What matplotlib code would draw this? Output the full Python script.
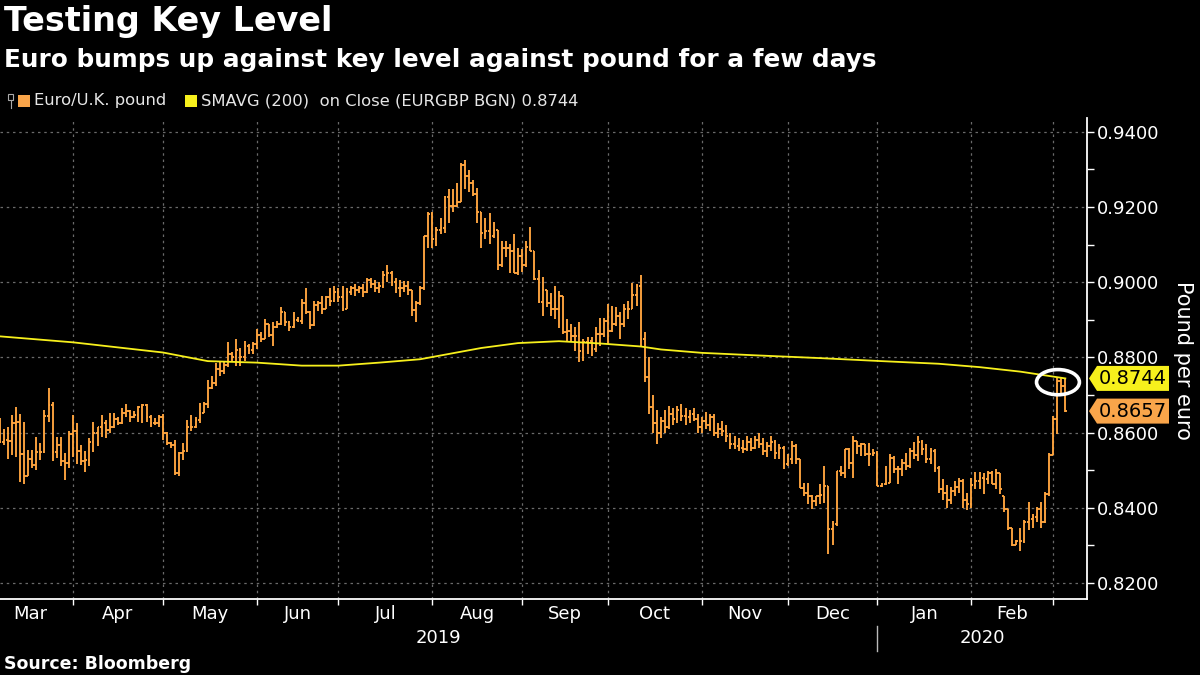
'''
EUR/GBP daily bars against the 200-day moving average, Bloomberg style.
'''
import matplotlib
matplotlib.use("Agg")
import matplotlib.pyplot as plt
import numpy as np
import pandas as pd
from matplotlib.collections import LineCollection
from matplotlib.patches import Ellipse, Polygon, Rectangle
from matplotlib.transforms import blended_transform_factory

# One bar per business day, 6 Mar 2019 to 5 Mar 2020
start_date = "2019-03-06"
end_date = "2020-03-05"

opens = [
  # Mar 2019
  .8600, .8576, .8580, .8578, .8626, .8629, .8543, .8485, .8529, .8514, .8547, .8547, .8644, .8673, .8549, .8567, .8524, .8518,
  # Apr
  .8596, .8603, .8551, .8524, .8527, .8576, .8598, .8614, .8625, .8607, .8616, .8635, .8626, .8651, .8656, .8642, .8647, .8669, .8673, .8641, .8625, .8625,
  # May
  .8642, .8598, .8571, .8567, .8492, .8545, .8551, .8616, .8614, .8634, .8653, .8676, .8718, .8731, .8770, .8765, .8780, .8809, .8800, .8820, .8800, .8830, .8820,
  # Jun
  .8835, .8860, .8850, .8890, .8860, .8880, .8889, .8920, .8895, .8880, .8900, .8898, .8945, .8920, .8885, .8940, .8945, .8930, .8960, .8950,
  # Jul
  .8975, .8960, .8930, .8975, .8985, .8980, .8985, .8975, .9005, .8995, .8985, .8990, .9020, .9025, .9000, .8985, .8985, .8990, .8980, .8926, .8945, .8985, .9122,
  # Aug
  .9181, .9114, .9140, .9144, .9226, .9204, .9204, .9214, .9312, .9283, .9264, .9234, .9187, .9131, .9135, .9122, .9140, .9045, .9092, .9092, .9084, .9025,
  # Sep
  .9071, .9045, .9093, .9084, .9008, .8948, .8980, .8946, .8928, .8928, .8962, .8867, .8871, .8858, .8858, .8818, .8840, .8844, .8822, .8862, .8862,
  # Oct
  .8898, .8871, .8889, .8911, .8889, .8929, .8929, .8967, .8990, .8849, .8747, .8668, .8625, .8600, .8630, .8615, .8650, .8635, .8660, .8645, .8640, .8650, .8635,
  # Nov
  .8615, .8630, .8620, .8640, .8600, .8610, .8605, .8590, .8570, .8565, .8560, .8555, .8575, .8560, .8580, .8570, .8550, .8565, .8575, .8545, .8560,
  # Dec
  .8515, .8529, .8564, .8529, .8453, .8440, .8431, .8418, .8431, .8435, .8458, .8342, .8356, .8498, .8493, .8555, .8520, .8577, .8564, .8569, .8542, .8542,
  # Jan 2020
  .8545, .8458, .8462, .8467, .8533, .8502, .8502, .8520, .8510, .8550, .8540, .8575, .8555, .8530, .8550, .8505, .8450, .8440, .8420, .8445, .8455, .8470, .8420,
  # Feb
  .8410, .8460, .8470, .8480, .8476, .8493, .8463, .8493, .8430, .8397, .8345, .8302, .8310, .8310, .8362, .8371, .8376, .8397, .8362, .8436,
  # Mar 2020
  .8541, .8636, .8737, .8724,
]
highs = [
  .8638, .8609, .8616, .8647, .8669, .8649, .8629, .8554, .8554, .8587, .8571, .8660, .8718, .8680, .8589, .8589, .8545, .8603,
  .8647, .8625, .8567, .8551, .8585, .8629, .8616, .8647, .8632, .8651, .8651, .8642, .8665, .8676, .8660, .8656, .8671, .8675, .8676, .8647, .8638, .8647,
  .8648, .8602, .8576, .8580, .8549, .8571, .8634, .8647, .8642, .8678, .8682, .8740, .8750, .8785, .8791, .8791, .8840, .8815, .8849, .8825, .8844, .8835, .8840,
  .8875, .8867, .8902, .8890, .8893, .8898, .8933, .8920, .8898, .8920, .8907, .8955, .8985, .8924, .8951, .8951, .8964, .8964, .8985, .8990,
  .8985, .8990, .8985, .8990, .8995, .8990, .8995, .9010, .9010, .9005, .9000, .9030, .9045, .9030, .9010, .9005, .9002, .9002, .8980, .8950, .8990, .9122, .9187,
  .9187, .9148, .9170, .9230, .9247, .9247, .9265, .9316, .9325, .9299, .9273, .9252, .9187, .9170, .9183, .9161, .9140, .9110, .9110, .9101, .9127, .9092,
  .9088, .9110, .9148, .9084, .9032, .9015, .8980, .8972, .8989, .8976, .8962, .8902, .8889, .8880, .8893, .8849, .8853, .8853, .8880, .8906, .8906,
  .8942, .8937, .8933, .8920, .8942, .8950, .8998, .8994, .9018, .8867, .8800, .8700, .8660, .8640, .8660, .8670, .8665, .8670, .8675, .8665, .8660, .8665, .8650,
  .8640, .8655, .8650, .8650, .8625, .8630, .8620, .8600, .8590, .8585, .8580, .8590, .8585, .8590, .8600, .8585, .8575, .8590, .8580, .8570, .8565,
  .8542, .8577, .8569, .8529, .8467, .8467, .8435, .8431, .8462, .8511, .8458, .8365, .8498, .8511, .8555, .8558, .8591, .8577, .8573, .8569, .8573, .8555,
  .8551, .8467, .8511, .8542, .8537, .8511, .8530, .8545, .8560, .8575, .8590, .8580, .8570, .8560, .8555, .8510, .8475, .8460, .8455, .8470, .8480, .8475, .8440,
  .8480, .8495, .8495, .8493, .8497, .8497, .8502, .8493, .8432, .8397, .8345, .8315, .8345, .8367, .8415, .8384, .8402, .8415, .8441, .8545,
  .8645, .8744, .8744, .8744,
]
lows = [
  .8571, .8567, .8529, .8540, .8536, .8469, .8463, .8483, .8505, .8501, .8527, .8545, .8629, .8523, .8532, .8511, .8474, .8505,
  .8536, .8516, .8514, .8496, .8511, .8549, .8563, .8589, .8585, .8598, .8611, .8620, .8622, .8642, .8629, .8638, .8629, .8625, .8629, .8616, .8620, .8616,
  .8580, .8567, .8558, .8487, .8483, .8527, .8549, .8603, .8611, .8625, .8651, .8665, .8715, .8725, .8750, .8755, .8775, .8791, .8778, .8778, .8791, .8809, .8809,
  .8822, .8840, .8849, .8853, .8831, .8878, .8885, .8884, .8871, .8878, .8893, .8889, .8915, .8875, .8884, .8924, .8915, .8928, .8937, .8948,
  .8947, .8924, .8928, .8965, .8964, .8970, .8960, .8970, .8985, .8975, .8970, .8985, .9000, .8990, .8970, .8960, .8975, .8965, .8911, .8894, .8940, .8980, .9092,
  .9092, .9097, .9127, .9131, .9157, .9187, .9200, .9213, .9247, .9239, .9230, .9157, .9092, .9114, .9101, .9118, .9032, .9041, .9067, .9024, .9024, .9020,
  .9028, .9040, .9084, .9006, .8946, .8911, .8933, .8911, .8902, .8877, .8862, .8840, .8840, .8818, .8787, .8791, .8809, .8804, .8813, .8831, .8855,
  .8835, .8868, .8884, .8849, .8880, .8902, .8928, .8938, .8831, .8735, .8650, .8600, .8570, .8585, .8600, .8610, .8620, .8625, .8630, .8620, .8625, .8630, .8600,
  .8600, .8610, .8605, .8590, .8585, .8590, .8575, .8555, .8555, .8550, .8545, .8550, .8550, .8555, .8560, .8540, .8535, .8550, .8530, .8530, .8502,
  .8510, .8515, .8515, .8453, .8431, .8409, .8396, .8404, .8409, .8413, .8276, .8302, .8351, .8484, .8480, .8502, .8480, .8542, .8537, .8537, .8511, .8537,
  .8458, .8455, .8460, .8465, .8493, .8462, .8485, .8500, .8505, .8530, .8525, .8540, .8520, .8515, .8495, .8440, .8420, .8400, .8410, .8430, .8440, .8400, .8395,
  .8400, .8450, .8450, .8436, .8463, .8463, .8451, .8436, .8389, .8341, .8297, .8300, .8284, .8305, .8341, .8345, .8362, .8345, .8360, .8432,
  .8540, .8597, .8702, .8654,
]
closes = [
  .8576, .8580, .8578, .8626, .8629, .8543, .8485, .8529, .8514, .8547, .8547, .8644, .8673, .8549, .8567, .8524, .8518, .8596,
  .8603, .8551, .8524, .8527, .8576, .8598, .8614, .8625, .8607, .8616, .8635, .8626, .8651, .8656, .8642, .8647, .8669, .8673, .8641, .8625, .8625, .8642,
  .8598, .8571, .8567, .8492, .8545, .8551, .8616, .8614, .8634, .8653, .8676, .8718, .8731, .8770, .8765, .8780, .8809, .8800, .8820, .8800, .8830, .8820, .8835,
  .8860, .8850, .8890, .8860, .8880, .8889, .8920, .8895, .8880, .8900, .8898, .8945, .8920, .8885, .8940, .8945, .8930, .8960, .8950, .8975,
  .8960, .8930, .8975, .8985, .8980, .8985, .8975, .9005, .8995, .8985, .8990, .9020, .9025, .9000, .8985, .8985, .8990, .8980, .8926, .8945, .8985, .9122, .9181,
  .9114, .9140, .9144, .9226, .9204, .9204, .9214, .9312, .9283, .9264, .9234, .9187, .9131, .9135, .9122, .9140, .9045, .9092, .9092, .9084, .9025, .9071,
  .9045, .9093, .9084, .9008, .8948, .8980, .8946, .8928, .8928, .8962, .8867, .8871, .8858, .8858, .8818, .8840, .8844, .8822, .8862, .8862, .8898,
  .8871, .8889, .8911, .8889, .8929, .8929, .8967, .8990, .8849, .8747, .8668, .8625, .8600, .8630, .8615, .8650, .8635, .8660, .8645, .8640, .8650, .8635, .8615,
  .8630, .8620, .8640, .8600, .8610, .8605, .8590, .8570, .8565, .8560, .8555, .8575, .8560, .8580, .8570, .8550, .8565, .8575, .8545, .8560, .8515,
  .8529, .8564, .8529, .8453, .8440, .8431, .8418, .8431, .8435, .8458, .8342, .8356, .8498, .8493, .8555, .8520, .8577, .8564, .8569, .8542, .8542, .8545,
  .8458, .8462, .8467, .8533, .8502, .8502, .8520, .8510, .8550, .8540, .8575, .8555, .8530, .8550, .8505, .8450, .8440, .8420, .8445, .8455, .8470, .8420, .8410,
  .8460, .8470, .8480, .8476, .8493, .8463, .8493, .8449, .8397, .8345, .8302, .8310, .8310, .8362, .8371, .8376, .8397, .8362, .8436, .8541,
  .8636, .8737, .8724, .8657,
]

# 200-day simple moving average on close, read at a few bars
sma_bar = [0, 18, 40, 51, 63, 74, 83, 93, 103, 108, 118, 127, 137, 147, 157, 162, 172, 186, 201, 216, 230, 240, 250, 261]
sma_value = [.8856, .8840, .8813, .8790, .8786, .8778, .8778, .8786, .8795, .8805, .8825, .8838, .8843, .8837, .8829,
             .8821, .8812, .8805, .8798, .8790, .8783, .8774, .8762, .8744]

month_names = ["Mar", "Apr", "May", "Jun", "Jul", "Aug", "Sep", "Oct", "Nov", "Dec", "Jan", "Feb"]
year_names = ["2019", "2020"]
y_ticks = [0.82, 0.84, 0.86, 0.88, 0.90, 0.92, 0.94]
last_sma = 0.8744
last_close = 0.8657

BAR_COLOR = "#FFA53F"
SMA_COLOR = "#F7F01C"
TAG_ORANGE = "#F9A54A"
GRID_COLOR = "#6a6a6a"


def main() -> None:
  dates = pd.bdate_range(start_date, end_date)
  n = len(dates)
  x = np.arange(n)

  fig = plt.figure(figsize=(12, 6.75), dpi=100, facecolor="black")
  ax = fig.add_axes([0.0, 0.1126, 0.9058, 0.7126], facecolor="black")

  # OHLC bars: high-low stem, open tick left, close tick right
  segments = []
  for i in range(n):
    segments.append([(x[i], lows[i]), (x[i], highs[i])])
    segments.append([(x[i] - 0.45, opens[i]), (x[i], opens[i])])
    segments.append([(x[i], closes[i]), (x[i] + 0.45, closes[i])])
  ax.add_collection(LineCollection(segments, colors=BAR_COLOR, linewidths=1.35, capstyle="butt", zorder=3))

  ax.plot(sma_bar, sma_value, color=SMA_COLOR, lw=1.3, zorder=4)

  # Axis limits
  ax.set_xlim(0.12, 266.3)
  ax.set_ylim(0.8157, 0.9437)

  # Month boundaries (first business day of each month)
  month_starts = [i for i in range(1, n) if dates[i].month != dates[i - 1].month]
  lead = len(pd.bdate_range("2019-03-01", start_date)) - 1
  edges = [-lead] + month_starts
  ax.set_xticks(month_starts)
  ax.set_xticklabels([])
  ax.tick_params(axis="x", colors="white", direction="out", length=4, width=1)

  trans = blended_transform_factory(ax.transData, ax.transAxes)
  for k, name in enumerate(month_names):
    center = (edges[k] + edges[k + 1]) / 2
    ax.text(center, -0.031, name, transform=trans, ha="center", va="center",
            color="white", fontsize=13, clip_on=False)

  # Year labels and separator
  jan_idx = [i for i in month_starts if dates[i].month == 1][0]
  ax.text((0.12 + jan_idx) / 2, -0.082, year_names[0], transform=trans, ha="center", va="center",
          color="white", fontsize=13, clip_on=False)
  ax.text((jan_idx + 266.3) / 2, -0.082, year_names[1], transform=trans, ha="center", va="center",
          color="white", fontsize=13, clip_on=False)
  ax.plot([jan_idx, jan_idx], [-0.056, -0.108], transform=trans, color="#bbbbbb", lw=1, clip_on=False)

  # Right-hand price axis
  ax.yaxis.tick_right()
  ax.set_yticks(y_ticks)
  ax.set_yticklabels([f"{v:.4f}" for v in y_ticks])
  ax.set_yticks([v + 0.01 for v in y_ticks[:-1]], minor=True)
  ax.tick_params(axis="y", which="both", colors="white", direction="out", length=5, width=1, pad=2, labelsize=13)
  ax.tick_params(axis="y", which="minor", length=5)

  for side in ["top", "left"]:
    ax.spines[side].set_visible(False)
  for side in ["right", "bottom"]:
    ax.spines[side].set_color("white")
    ax.spines[side].set_linewidth(1.3)

  ax.grid(True, which="major", color=GRID_COLOR, ls=(0, (2, 3)), lw=0.9)
  ax.set_axisbelow(True)

  # Circle round the latest bars
  ax.add_patch(Ellipse((259.2, 0.8734), width=10.5, height=0.0067, fill=False,
                       ec="white", lw=2.6, zorder=6))

  # Price tags on the axis
  inv = fig.transFigure.inverted()
  for value, color in [(last_sma, SMA_COLOR), (last_close, TAG_ORANGE)]:
    yf = inv.transform(ax.transData.transform((0, value)))[1]
    h = 12.5 / 675
    x0, x1, x2 = 1089 / 1200, 1097 / 1200, 1169 / 1200
    fig.patches.append(Polygon([(x0, yf), (x1, yf + h), (x2, yf + h), (x2, yf - h), (x1, yf - h)],
                               closed=True, transform=fig.transFigure, fc=color, ec="none", zorder=5))
    fig.text((x1 + x2) / 2, yf, f"{value:.4f}", ha="center", va="center", color="black", fontsize=14, zorder=6)

  fig.text(1183 / 1200, 1 - 360 / 675, "Pound per euro", rotation=270, ha="center", va="center",
           color="white", fontsize=15)

  # Titles
  fig.text(4 / 1200, 1 - 5 / 675, "Testing Key Level", ha="left", va="top", color="white",
           fontsize=24, fontweight="bold")
  fig.text(4 / 1200, 1 - 48 / 675, "Euro bumps up against key level against pound for a few days", ha="left",
           va="top", color="white", fontsize=17.8, fontweight="bold")

  # Legend row
  ly = 1 - 101 / 675
  fig.patches.append(Rectangle((8 / 1200, 1 - 100 / 675), 5 / 1200, 6 / 675, transform=fig.transFigure,
                               fill=False, ec="#aaaaaa", lw=0.8))
  fig.lines.append(plt.Line2D([10.5 / 1200, 10.5 / 1200], [1 - 100 / 675, 1 - 108 / 675],
                              transform=fig.transFigure, color="#aaaaaa", lw=0.8))
  fig.patches.append(Rectangle((18 / 1200, 1 - 107 / 675), 12 / 1200, 12 / 675, transform=fig.transFigure,
                               fc=TAG_ORANGE, ec="none"))
  fig.text(34 / 1200, ly, "Euro/U.K. pound", ha="left", va="center", color="#e6e6e6", fontsize=11.8)
  fig.patches.append(Rectangle((185 / 1200, 1 - 107 / 675), 12 / 1200, 12 / 675, transform=fig.transFigure,
                               fc=SMA_COLOR, ec="none"))
  fig.text(201 / 1200, ly, "SMAVG (200)  on Close (EURGBP BGN) 0.8744", ha="left", va="center",
           color="#e6e6e6", fontsize=11.8)

  fig.text(4 / 1200, 1 - 664 / 675, "Source: Bloomberg", ha="left", va="center", color="white",
           fontsize=12.5, fontweight="bold")

  fig.savefig("out.png", dpi=100, facecolor="black")


if __name__ == "__main__":
  main()
